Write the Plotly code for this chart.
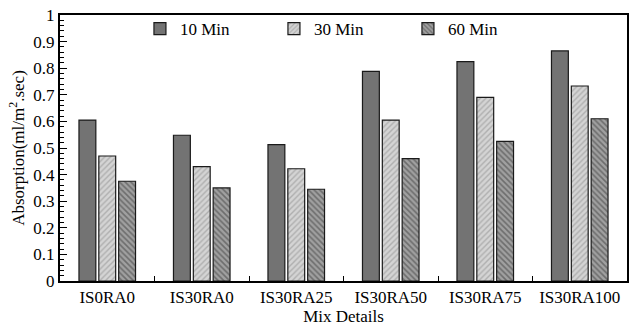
import plotly.graph_objects as go

categories = ["IS0RA0", "IS30RA0", "IS30RA25", "IS30RA50", "IS30RA75", "IS30RA100"]
series_names = ["10 Min", "30 Min", "60 Min"]
min10 = [0.605, 0.548, 0.513, 0.788, 0.825, 0.865]
min30 = [0.470, 0.430, 0.422, 0.605, 0.690, 0.733]
min60 = [0.375, 0.350, 0.345, 0.460, 0.525, 0.610]
y_ticks = [0, 0.1, 0.2, 0.3, 0.4, 0.5, 0.6, 0.7, 0.8, 0.9, 1]
y_tick_labels = ["0", "0.1", "0.2", "0.3", "0.4", "0.5", "0.6", "0.7", "0.8", "0.9", "1"]

font = "Liberation Serif"

fig = go.Figure()
fig.add_trace(go.Bar(
    x=categories, y=min10, name=series_names[0],
    marker=dict(color="#737373", line=dict(color="#1a1a1a", width=1.2)),
))
fig.add_trace(go.Bar(
    x=categories, y=min30, name=series_names[1],
    marker=dict(color="#d4d4d4", line=dict(color="#1a1a1a", width=1.2),
                pattern=dict(shape="/", fgcolor="#8a8a8a", bgcolor="#d4d4d4",
                             size=4, solidity=0.35)),
))
fig.add_trace(go.Bar(
    x=categories, y=min60, name=series_names[2],
    marker=dict(color="#8c8c8c", line=dict(color="#1a1a1a", width=1.2),
                pattern=dict(shape="\\", fgcolor="#3a3a3a", bgcolor="#a0a0a0",
                             size=4, solidity=0.4)),
))

fig.update_layout(
    width=635, height=329,
    margin=dict(l=60, r=6, t=13, b=45),
    paper_bgcolor="white", plot_bgcolor="white",
    barmode="group", bargap=0.37, bargroupgap=0.15,
    font=dict(family=font, size=17, color="black"),
    showlegend=True,
    legend=dict(orientation="h", x=0.141, y=1.015, xanchor="left", yanchor="top",
                entrywidth=89, entrywidthmode="pixels", itemwidth=30,
                font=dict(family=font, size=17, color="black"),
                bgcolor="rgba(0,0,0,0)", borderwidth=0),
    xaxis=dict(
        title=dict(text="Mix Details", font=dict(family=font, size=17), standoff=4),
        showline=True, linecolor="black", linewidth=2, mirror=True,
        ticks="inside", tickson="boundaries", ticklen=5, tickcolor="black",
        showgrid=False, tickfont=dict(family=font, size=17),
    ),
    yaxis=dict(
        title=dict(text="Absorption(ml/m<sup>2</sup>.sec)", font=dict(family=font, size=17), standoff=4),
        range=[0, 1], tickvals=y_ticks, ticktext=y_tick_labels,
        showline=True, linecolor="black", linewidth=2, mirror=True,
        ticks="inside", ticklen=7, tickcolor="black",
        minor=dict(dtick=0.02, ticks="inside", ticklen=4, tickcolor="black", showgrid=False),
        showgrid=False, zeroline=False, tickfont=dict(family=font, size=17),
    ),
)

fig.write_html("out.html")
